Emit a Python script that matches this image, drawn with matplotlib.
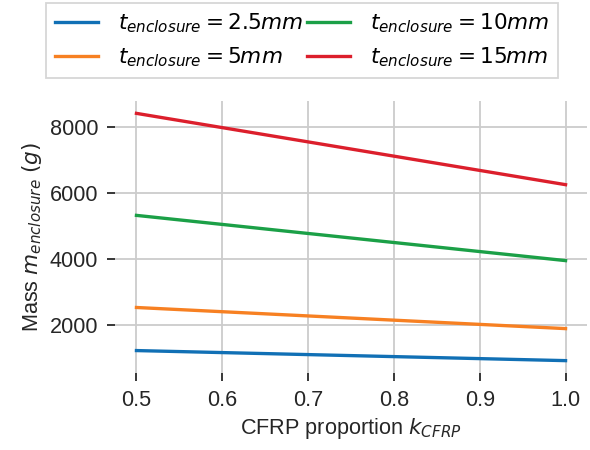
import numpy as np
import matplotlib
matplotlib.use("Agg")
import matplotlib.pyplot as plt

# CFRP share of the enclosure laminate
k_cfrp = [0.5, 1.0]

# enclosure mass (g) for each wall thickness
thicknesses = ["2.5", "5", "10", "15"]
mass_t2_5 = [1240, 935]
mass_t5 = [2545, 1905]
mass_t10 = [5335, 3965]
mass_t15 = [8425, 6265]

colors = ["#1170b5", "#f78022", "#1ba047", "#dc1f2c"]

plt.rcParams["font.family"] = ["Liberation Sans", "DejaVu Sans"]
plt.rcParams["mathtext.fontset"] = "dejavusans"

fs = 15.6
fig = plt.figure(figsize=(5.9, 4.5), dpi=100)
ax = fig.add_axes([115 / 590, 1 - 373 / 450, 472 / 590, 272 / 450])

series = [mass_t2_5, mass_t5, mass_t10, mass_t15]
for t, m, c in zip(thicknesses, series, colors):
    ax.plot(k_cfrp, m, color=c, lw=2.4, label=r"$t_{enclosure} = %smm$" % t)

ax.set_xticks([0.5, 0.6, 0.7, 0.8, 0.9, 1.0])
ax.set_yticks([2000, 4000, 6000, 8000])
ax.grid(True, color="#cccccc", lw=1.3)
ax.set_axisbelow(True)
for s in ax.spines.values():
    s.set_visible(False)
ax.tick_params(axis="both", direction="out", length=6, width=1.3,
               color="#262626", labelcolor="#262626", labelsize=fs, pad=6)

ax.set_xlabel(r"CFRP proportion $k_{CFRP}$", fontsize=fs, color="#262626")
ax.set_ylabel(r"Mass $m_{enclosure}$ $(g)$", fontsize=fs, color="#262626")

leg = fig.legend(loc="upper center", bbox_to_anchor=(0.512, 1.004), ncol=2,
                 fontsize=fs, frameon=True, fancybox=False,
                 handlelength=2.0, columnspacing=0.2, handletextpad=0.9,
                 borderaxespad=0.2)
leg.get_frame().set_edgecolor("#cccccc")
leg.get_frame().set_linewidth(1.3)

fig.savefig("out.png", dpi=100)
